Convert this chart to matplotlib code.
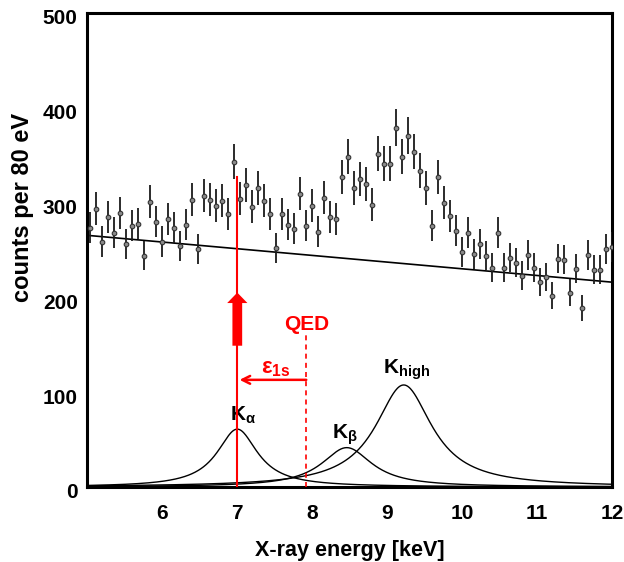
import numpy as np
import matplotlib
matplotlib.use('Agg')
import matplotlib.pyplot as plt
import matplotlib.transforms as mtransforms

plt.rcParams['font.family'] = ['Liberation Sans', 'DejaVu Sans']
plt.rcParams['font.weight'] = 'bold'
plt.rcParams['mathtext.fontset'] = 'custom'
plt.rcParams['mathtext.rm'] = 'Liberation Sans:bold'
plt.rcParams['mathtext.it'] = 'Liberation Sans:bold'
plt.rcParams['mathtext.bf'] = 'Liberation Sans:bold'

# spectrum, 80 eV bins
energy = 5.04 + 0.08 * np.arange(88)
counts = [273.5, 293.6, 258.8, 285.1, 268.2, 289.3, 256.6, 275.6, 277.7, 244.0,
          301.0, 279.9, 258.8, 283.0, 273.5, 254.5, 276.7, 303.1, 251.4, 307.3,
          303.1, 296.7, 302.0, 288.3, 343.1, 304.1, 318.9, 295.7, 315.7, 302.0,
          288.3, 252.4, 288.3, 276.7, 272.5, 309.4, 275.6, 296.7, 269.3, 305.2,
          285.1, 283.0, 327.3, 348.4, 315.7, 325.2, 319.9, 297.8, 351.6, 341.0,
          341.0, 379.0, 348.4, 370.6, 353.7, 333.6, 315.7, 275.6, 327.3, 299.9,
          286.2, 270.4, 248.2, 268.2, 246.1, 256.6, 244.0, 231.3, 268.2, 231.3,
          241.9, 236.6, 222.9, 245.0, 231.3, 216.6, 221.8, 201.8, 240.8, 239.8,
          205.0, 230.3, 189.1, 245.0, 229.2, 229.2, 251.4, 253.5]
counts = np.array(counts)
errors = np.sqrt(counts)

# linear background end points
bg_x = [5.0, 12.0]
bg_y = [265.4, 216.0]

# fitted lines: name, centre [keV], height, half width
line_names = ['Ka', 'Kb', 'Khigh']
line_pos = [7.0, 8.46, 9.22]
line_amp = [61.0, 41.5, 107.6]
line_gam = [0.33, 0.41, 0.46]

shift_x = 7.0
qed_x = 7.92


def lorentz(x, x0, a, g):
    return a / (1.0 + ((x - x0) / g) ** 2)


fig = plt.figure(figsize=(6.24, 5.62), dpi=100)
ax = fig.add_axes([0.140, 0.1335, 0.841, 0.8435])

ax.errorbar(energy, counts, yerr=errors, fmt='o', ms=3.3, mfc='#8a8a8a', mec='#333333',
            mew=0.8, ecolor='#1a1a1a', elinewidth=1.3, capsize=0, zorder=3)
ax.plot(bg_x, bg_y, color='black', lw=1.2)

xx = np.linspace(5, 12, 800)
for x0, a, g in zip(line_pos, line_amp, line_gam):
    ax.plot(xx, lorentz(xx, x0, a, g), color='black', lw=1.0)

# shift markers
ax.plot([shift_x, shift_x], [0, 327], color='red', lw=1.5, zorder=4)
ax.arrow(shift_x, 149, 0, 56, width=0.13, head_width=0.27, head_length=11,
         length_includes_head=True, color='red', lw=0, zorder=5)
ax.plot([qed_x, qed_x], [0, 160], color='red', lw=1.2, dashes=(3, 2.5), zorder=4)
ax.annotate('', xy=(shift_x + 0.03, 113), xytext=(qed_x, 113),
            arrowprops=dict(arrowstyle='->', color='red', lw=1.8,
                            shrinkA=0, shrinkB=0, mutation_scale=14))
ax.text(qed_x + 0.01, 166, 'QED', color='red', fontsize=15, fontweight='bold',
        ha='center', va='baseline')
ax.text(7.32, 120, r'$\mathrm{ε_{1s}}$', color='red', fontsize=16,
        ha='left', va='baseline')

ax.text(6.90, 70, r'K$_\mathrm{α}$', fontsize=15, ha='left', va='baseline')
ax.text(8.26, 51, r'K$_\mathrm{β}$', fontsize=15, ha='left', va='baseline')
ax.text(8.95, 120, r'K$_\mathrm{high}$', fontsize=15, ha='left', va='baseline')

ax.set_xlim(5, 12)
ax.set_ylim(0, 500)
ax.set_xticks([6, 7, 8, 9, 10, 11, 12])
ax.set_yticks([0, 100, 200, 300, 400, 500])
ax.tick_params(axis='both', length=0, labelsize=15)
ax.tick_params(axis='x', pad=12)
ax.tick_params(axis='y', pad=7)
for spine in ax.spines.values():
    spine.set_linewidth(2.2)

offset = mtransforms.ScaledTranslation(0, -4 / 100, fig.dpi_scale_trans)
for lab in ax.get_yticklabels():
    lab.set_transform(lab.get_transform() + offset)

ax.set_xlabel('X-ray energy [keV]', fontsize=15.5, fontweight='bold')
ax.set_ylabel('counts per 80 eV', fontsize=17, fontweight='bold')
ax.xaxis.set_label_coords(0.5, -0.112)
ax.yaxis.set_label_coords(-0.102, 0.59)

fig.savefig('out.png', dpi=100)
